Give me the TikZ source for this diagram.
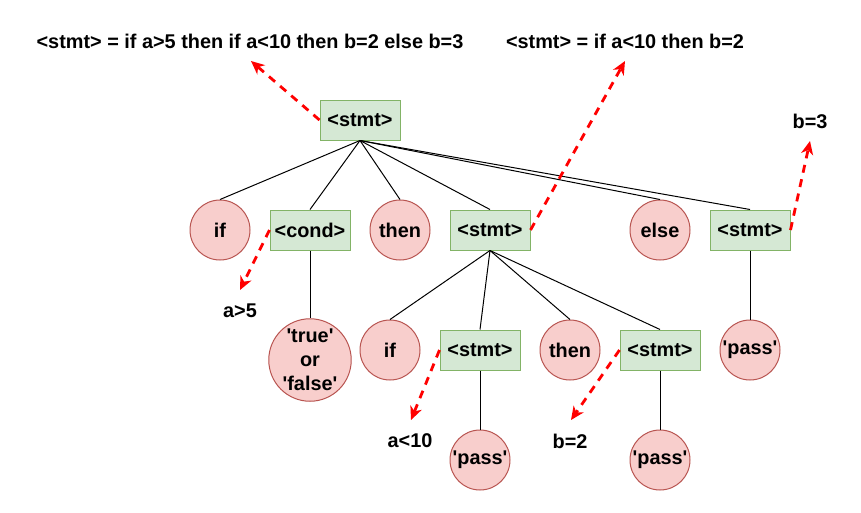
\documentclass[tikz,border=0pt]{standalone}
\usepackage{fontspec}
\setmainfont{Liberation Sans}
\usetikzlibrary{arrows.meta}

\definecolor{ntfill}{HTML}{D5E8D4}
\definecolor{ntline}{HTML}{82B366}
\definecolor{tfill}{HTML}{F8CECC}
\definecolor{tline}{HTML}{B85450}
\newcommand{\sq}{\textquotesingle}

\begin{document}
\begin{tikzpicture}[x=0.75pt, y=-0.75pt,
			every node/.style={font=\fontsize{14.9}{18}\selectfont\bfseries},
			nonterm/.style={rectangle, draw=ntline, fill=ntfill, line width=0.75pt, minimum width=60pt, minimum height=30pt, inner sep=0},
			term/.style={circle, draw=tline, fill=tfill, line width=0.75pt, minimum size=45pt, inner sep=0, align=center},
			plain/.style={inner sep=0},
			edge/.style={line width=0.75pt},
			note/.style={red, line width=2.1pt, dash pattern=on 6pt off 5pt, -{Stealth[length=10pt,width=9pt,inset=3pt]}}]
			
			\useasboundingbox (0,0) rectangle (861,512);
			
			% derivation labels
			\node[plain] (full) at (250,41) {<stmt> = if a>5 then if a<10 then b=2 else b=3};
			\node[plain] (inner) at (625,41) {<stmt> = if a<10 then b=2};
			\node[plain] (bthree) at (810,121) {b=3};
			\node[plain] (afive) at (240,311) {a>5};
			\node[plain] (aten) at (410,441) {a<10};
			\node[plain] (btwo) at (570,441) {b=2};
			
			% tree
			\node[nonterm] (root) at (360,120) {<stmt>};
			\node[term] (if) at (220,230) {if};
			\node[nonterm] (cond) at (310,230) {<cond>};
			\node[term] (then) at (400,230) {then};
			\node[nonterm] (sub) at (490,230) {<stmt>};
			\node[term] (else) at (660,230) {else};
			\node[nonterm] (alt) at (750,230) {<stmt>};
			\node[term, minimum size=60pt] (bool) at (310,360) {\sq true\sq\\or\\\sq false\sq};
			\node[term] (ifin) at (390,350) {if};
			\node[nonterm] (subthen) at (480,350) {<stmt>};
			\node[term] (thenin) at (570,350) {then};
			\node[nonterm] (subelse) at (660,350) {<stmt>};
			\node[term] (passalt) at (750,350) {\sq pass\sq};
			\node[term] (passthen) at (480,460) {\sq pass\sq};
			\node[term] (passelse) at (660,460) {\sq pass\sq};
			
			\foreach \c in {if,cond,then,sub,else,alt}
				\draw[edge] (root.south) -- (\c.north);
			\foreach \c in {ifin,subthen,thenin,subelse}
				\draw[edge] (sub.south) -- (\c.north);
			\draw[edge] (cond) -- (bool);
			\draw[edge] (alt) -- (passalt);
			\draw[edge] (subthen) -- (passthen);
			\draw[edge] (subelse) -- (passelse);
			
			% dashed pointers
			\coordinate (tfull) at (251,61);
			\coordinate (tinner) at (625,61);
			\coordinate (tbthree) at (810,141);
			\coordinate (tafive) at (240,290);
			\coordinate (taten) at (411,420);
			\coordinate (tbtwo) at (571,420);
			\draw[note] (root.west) -- (tfull);
			\draw[note] (sub.east) -- (tinner);
			\draw[note] (alt.east) -- (tbthree);
			\draw[note] (cond.west) -- (tafive);
			\draw[note] (subthen.west) -- (taten);
			\draw[note] (subelse.west) -- (tbtwo);
		\end{tikzpicture}
\end{document}
